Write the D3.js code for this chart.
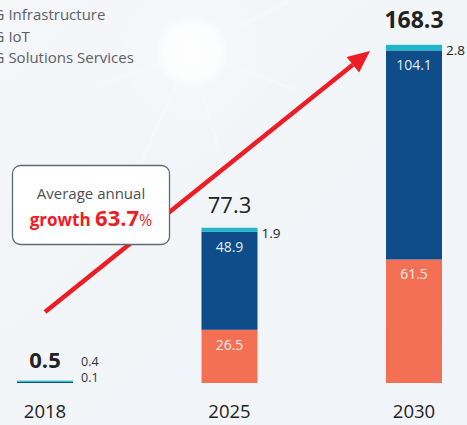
<!DOCTYPE html>
<html>
<head>
<meta charset="utf-8">
<script src="https://cdn.jsdelivr.net/npm/d3@7"></script>
<style>
  body { margin: 0; background: #f2f5f8; }
  text { font-family: "Open Sans", "Noto Sans", sans-serif; }
</style>
</head>
<body>
<div id="chart"></div>
<script>
let years = ["2018", "2025", "2030"];
let series = ["5G Infrastructure", "5G IoT", "5G Solutions Services"];
let infra = [0, 26.5, 61.5];
let iot = [0.4, 48.9, 104.1];
let solutions = [0.1, 1.9, 2.8];
let totals = [0.5, 77.3, 168.3];
let growth = "63.7";

let colors = ["#f37055", "#0f4c8a", "#1fb8c8"];
let keys = ["infra", "iot", "sol"];

let W = 467, H = 425;
let base = 383;

let svg = d3.select("#chart").append("svg")
  .attr("width", W)
  .attr("height", H);

let defs = svg.append("defs");
let bg = defs.append("linearGradient").attr("id", "bg")
  .attr("x1", 0).attr("y1", 0).attr("x2", 1).attr("y2", 1);
bg.append("stop").attr("offset", 0).attr("stop-color", "#f4f6f8");
bg.append("stop").attr("offset", 1).attr("stop-color", "#f1f5f9");
let sun = defs.append("radialGradient").attr("id", "sun");
sun.append("stop").attr("offset", 0).attr("stop-color", "#fff").attr("stop-opacity", 0.9);
sun.append("stop").attr("offset", 0.35).attr("stop-color", "#fff").attr("stop-opacity", 0.75);
sun.append("stop").attr("offset", 0.45).attr("stop-color", "#fff").attr("stop-opacity", 0.2);
sun.append("stop").attr("offset", 1).attr("stop-color", "#fff").attr("stop-opacity", 0);

svg.append("rect").attr("width", W).attr("height", H).attr("fill", "url(#bg)");

// glare behind the legend
svg.append("circle").attr("cx", 192).attr("cy", 52).attr("r", 80).attr("fill", "url(#sun)");
[[-28, 150], [20, 110], [75, 100], [115, 120], [160, 100]].forEach(r => {
  let a = r[0] * Math.PI / 180;
  svg.append("line")
    .attr("x1", 192).attr("y1", 52)
    .attr("x2", 192 + Math.cos(a) * r[1]).attr("y2", 52 + Math.sin(a) * r[1])
    .attr("stroke", "#fff").attr("stroke-width", 3).attr("stroke-opacity", 0.2);
});

// legend (markers sit off the left edge)
series.forEach((s, i) => {
  svg.append("text")
    .attr("x", -15)
    .attr("y", 20 + i * 21.5)
    .attr("font-size", 15)
    .attr("fill", "#5b6168")
    .text(s);
});

let x = d3.scalePoint()
  .domain(years)
  .range([45, 414]);
let bw = 56;

let y = d3.scaleLinear()
  .domain([0, d3.max(totals)])
  .range([base, 45]);

let rows = years.map((yr, i) => ({ year: yr, infra: infra[i], iot: iot[i], sol: solutions[i] }));

// stack in pixel space so tiny segments still show as 1px lines
let segs = [];
rows.forEach(r => {
  let top = y(0);
  keys.forEach((k, j) => {
    if (r[k] <= 0) return;
    let h = Math.max(1.2, y(0) - y(r[k]));
    top -= h;
    segs.push({ year: r.year, key: k, value: r[k], y: top, h: h, color: colors[j] });
  });
});

svg.append("g").selectAll("rect")
  .data(segs)
  .enter()
  .append("rect")
  .attr("x", d => x(d.year) - bw / 2)
  .attr("width", bw)
  .attr("y", d => d.y)
  .attr("height", d => d.h)
  .attr("fill", d => d.color);

// inner labels for big segments
svg.append("g").selectAll("text")
  .data(segs.filter(d => d.key !== "sol" && d.value > 5))
  .enter()
  .append("text")
  .attr("x", d => x(d.year))
  .attr("y", d => d.y + 20)
  .attr("text-anchor", "middle")
  .attr("font-size", 14)
  .attr("fill", "#fff")
  .attr("fill-opacity", 0.92)
  .text(d => d.value);

// small side labels
svg.append("g").selectAll("text")
  .data(rows.slice(1))
  .enter()
  .append("text")
  .attr("x", d => x(d.year) + bw / 2 + 4)
  .attr("y", (d, i) => y(totals[i + 1]) + 10)
  .attr("font-size", 13.5)
  .attr("fill", "#222")
  .text(d => d.sol);

svg.append("text")
  .attr("x", x("2018") + bw / 2 + 8).attr("y", base - 17)
  .attr("font-size", 12.5).attr("fill", "#333")
  .text(iot[0]);
svg.append("text")
  .attr("x", x("2018") + bw / 2 + 8).attr("y", base - 1)
  .attr("font-size", 12.5).attr("fill", "#333")
  .text(solutions[0]);

// totals
svg.append("text")
  .attr("x", x("2018")).attr("y", base - 15)
  .attr("text-anchor", "middle").attr("font-size", 22).attr("font-weight", "bold")
  .attr("fill", "#222").text(totals[0]);
svg.append("text")
  .attr("x", x("2025")).attr("y", y(totals[1]) - 15)
  .attr("text-anchor", "middle").attr("font-size", 22)
  .attr("fill", "#222").text(totals[1]);
svg.append("text")
  .attr("x", x("2030")).attr("y", y(totals[2]) - 17)
  .attr("text-anchor", "middle").attr("font-size", 23).attr("font-weight", "bold")
  .attr("fill", "#222").text(totals[2]);

// year labels
svg.append("g").selectAll("text")
  .data(years)
  .enter()
  .append("text")
  .attr("x", d => x(d))
  .attr("y", 418)
  .attr("text-anchor", "middle")
  .attr("font-size", 18.5)
  .attr("fill", "#222")
  .text(d => d);

// growth arrow
let x0 = 45, y0 = 312, x1 = 370, y1 = 51;
let ang = Math.atan2(y1 - y0, x1 - x0);
let headL = 22, headW = 10;
let bx = x1 - Math.cos(ang) * headL, by = y1 - Math.sin(ang) * headL;
svg.append("line")
  .attr("x1", x0).attr("y1", y0).attr("x2", bx).attr("y2", by)
  .attr("stroke", "#ee1c25").attr("stroke-width", 4.5);
svg.append("path")
  .attr("d", `M${x1},${y1} L${bx + Math.sin(ang) * headW},${by - Math.cos(ang) * headW} L${bx - Math.sin(ang) * headW},${by + Math.cos(ang) * headW} Z`)
  .attr("fill", "#ee1c25");

// callout box
svg.append("rect")
  .attr("x", 12.5).attr("y", 165.5).attr("width", 157).attr("height", 79)
  .attr("rx", 8)
  .attr("fill", "#fff").attr("stroke", "#5d6a72").attr("stroke-width", 1.3);
svg.append("text")
  .attr("x", 91).attr("y", 199)
  .attr("text-anchor", "middle").attr("font-size", 15).attr("fill", "#4a4f55")
  .text("Average annual");
let g2 = svg.append("text")
  .attr("x", 91).attr("y", 226)
  .attr("text-anchor", "middle").attr("fill", "#ee1c25").attr("font-weight", "bold");
g2.append("tspan").attr("font-size", 17).text("growth ");
g2.append("tspan").attr("font-size", 22).text(growth);
g2.append("tspan").attr("font-size", 16).attr("font-weight", "normal").text("%");
</script>
</body>
</html>
